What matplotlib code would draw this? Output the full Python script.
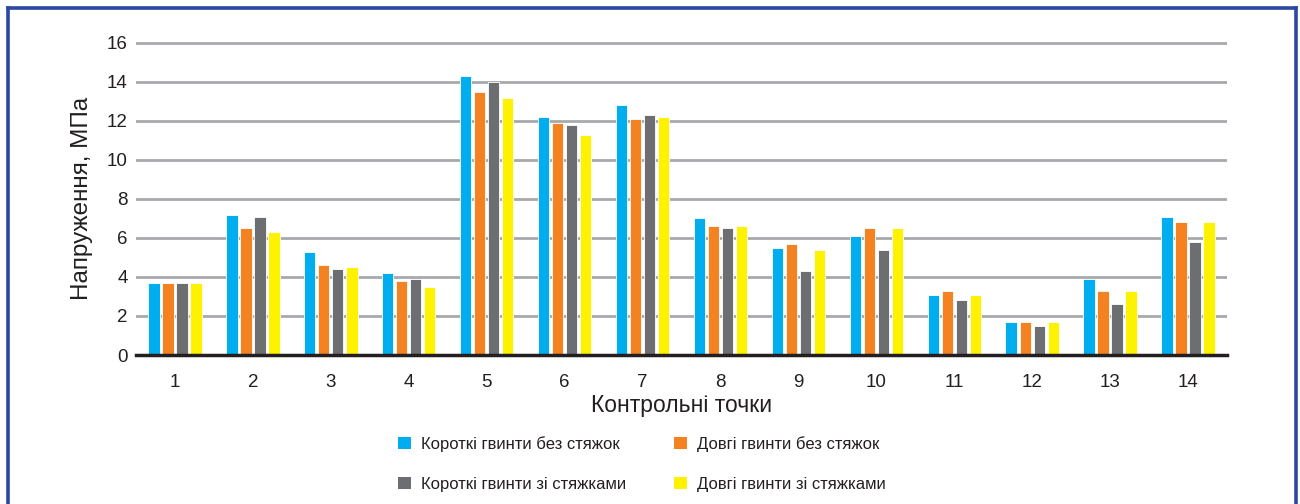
import numpy as np
import matplotlib

matplotlib.use("Agg")
import matplotlib.pyplot as plt
from matplotlib.lines import Line2D
from matplotlib.patches import Patch

plt.rcParams["font.family"] = ["Liberation Sans", "DejaVu Sans"]

# Stress at each control point, MPa
points = list(range(1, 15))
short_no_ties = [3.7, 7.2, 5.3, 4.2, 14.3, 12.2, 12.8, 7.0, 5.5, 6.1, 3.1, 1.7, 3.9, 7.1]
long_no_ties = [3.7, 6.5, 4.6, 3.8, 13.5, 11.9, 12.1, 6.6, 5.7, 6.5, 3.3, 1.7, 3.3, 6.8]
short_ties = [3.7, 7.1, 4.4, 3.9, 14.0, 11.8, 12.3, 6.5, 4.3, 5.4, 2.8, 1.5, 2.6, 5.8]
long_ties = [3.7, 6.3, 4.5, 3.5, 13.2, 11.3, 12.2, 6.6, 5.4, 6.5, 3.1, 1.7, 3.3, 6.8]

series = [
    ("Короткі гвинти без стяжок", short_no_ties, "#00aeef"),
    ("Довгі гвинти без стяжок", long_no_ties, "#f58220"),
    ("Короткі гвинти зі стяжками", short_ties, "#6d6e71"),
    ("Довгі гвинти зі стяжками", long_ties, "#fff200"),
]

TEXT = "#231f20"
W, H = 1300, 504

fig = plt.figure(figsize=(W / 100, H / 100), dpi=100)
ax = fig.add_axes([136 / W, 1 - 355 / H, (1227 - 136) / W, (355 - 42) / H])

x = np.array(points, dtype=float)
step, width = 0.18, 0.145
for i, (label, vals, color) in enumerate(series):
    ax.bar(x + (i - 1.5) * step, vals, width=width, color=color,
           edgecolor="white", linewidth=0.6, label=label, zorder=3)

ax.set_xlim(0.5, 14.5)
ax.set_ylim(0, 16.05)
ax.set_yticks(range(0, 17, 2))
ax.set_xticks(points)
ax.tick_params(axis="both", length=0, labelsize=13.5, colors=TEXT)
ax.tick_params(axis="x", pad=14)
ax.tick_params(axis="y", pad=6)
ax.grid(True, axis="y", color="#a7a9ac", lw=2, zorder=0)
for side in ("top", "right", "left"):
    ax.spines[side].set_visible(False)
ax.spines["bottom"].set_color("#231f20")
ax.spines["bottom"].set_linewidth(2.5)
ax.spines["bottom"].set_zorder(4)

ax.set_ylabel("Напруження, МПа", fontsize=17.5, color=TEXT, labelpad=10)
ax.set_xlabel("Контрольні точки", fontsize=16.5, color=TEXT, labelpad=2)

# legend fills column-wise, so order handles to read row by row
handles = [Patch(facecolor=c, edgecolor="none", label=l) for l, _, c in series]
handles = [handles[0], handles[2], handles[1], handles[3]]
fig.legend(handles=handles, ncol=2, loc="upper left",
           bbox_to_anchor=(390 / W, 1 - 428 / H), frameon=False,
           fontsize=12, handlelength=0.75, handleheight=0.75,
           handletextpad=0.6, columnspacing=2.9, labelspacing=1.5,
           borderpad=0, labelcolor=TEXT)

# blue frame, open at the bottom
frame = "#2b48a3"
xl, xr, yt = 7.5 / W, 1296 / W, 1 - 7.5 / H
for xs, ys in (([xl, xl], [0, yt]), ([xl, xr], [yt, yt]), ([xr, xr], [yt, 0])):
    fig.add_artist(Line2D(xs, ys, transform=fig.transFigure, color=frame, lw=2.6))

fig.savefig("out.png", dpi=100, facecolor="white")
